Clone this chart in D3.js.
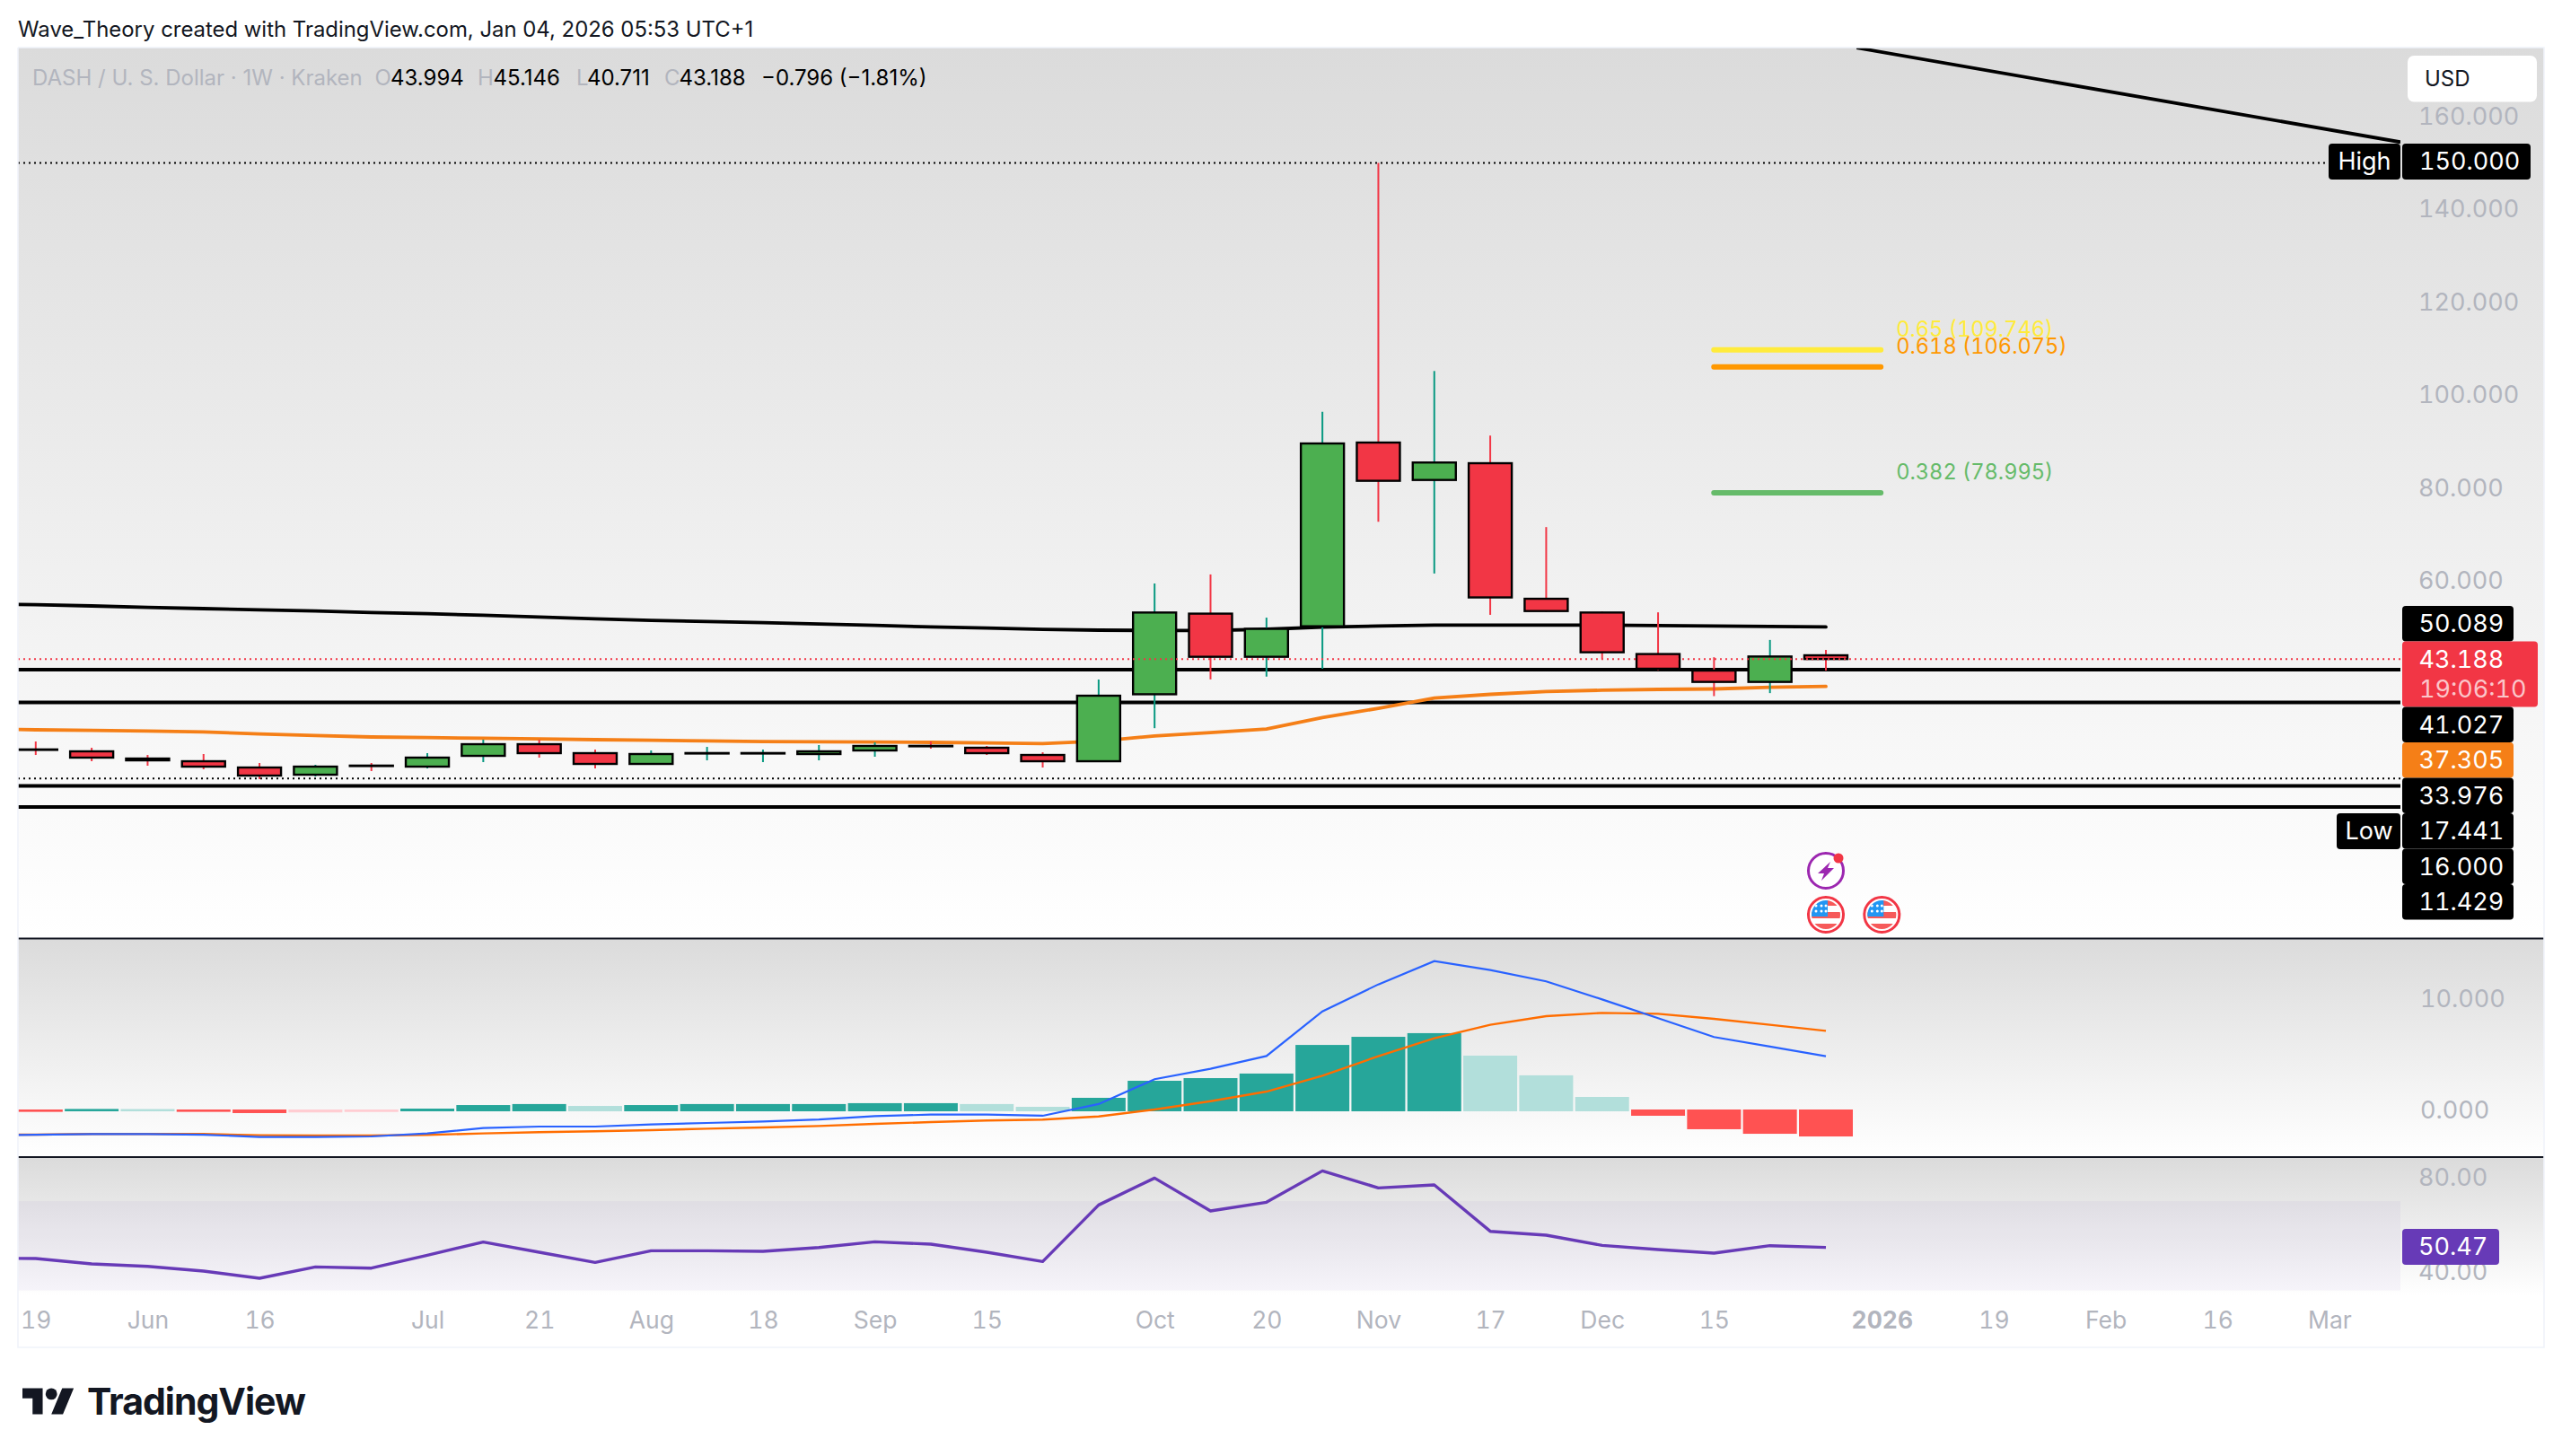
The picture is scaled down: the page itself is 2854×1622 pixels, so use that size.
<!DOCTYPE html>
<html>
<head>
<meta charset="utf-8">
<style>
html,body{margin:0;padding:0;background:#fff;}
svg{display:block;font-family:Inter,"Noto Sans",sans-serif;}
</style>
<script src="https://cdnjs.cloudflare.com/ajax/libs/d3/7.8.5/d3.min.js"></script>
</head>
<body>
<svg id="c" width="2854" height="1622" viewBox="0 0 2854 1622"></svg>
<script>
// ---------- data ----------
const opens  = [23.72,23.31,21.76,21.18,19.83,18.28,20.24,20.02,22.34,24.85,22.92,20.60,22.90,22.90,22.73,23.50,24.49,24.08,22.53,21.18,35.60,52.96,43.67,50.24,89.80,81.74,85.35,56.16,53.20,44.26,40.70,38.26,43.994];
const highs  = [25.43,24.08,22.53,22.73,20.80,20.41,20.80,22.92,25.82,25.82,23.69,23.50,24.27,23.69,24.66,25.24,25.43,24.47,23.11,38.77,59.45,61.40,52.10,96.40,150.00,105.20,91.30,71.60,53.40,53.24,43.57,47.30,45.146];
const lows   = [22.53,21.18,20.22,19.44,17.32,17.90,19.06,19.63,20.99,21.96,19.63,20.41,21.37,20.99,21.37,22.15,23.89,22.53,19.83,21.18,28.30,38.80,39.40,41.08,72.76,61.60,52.70,53.33,43.10,40.80,35.20,35.85,40.711];
const closes = [23.66,21.96,21.37,20.02,18.09,20.02,20.20,21.96,24.85,22.92,20.60,22.73,22.94,22.94,23.31,24.47,24.45,22.92,21.18,35.29,53.20,43.67,49.68,89.60,81.56,85.50,56.45,53.52,44.64,41.10,38.26,43.73,43.188];
// line series start one week earlier than the first whole candle (off the left edge)
const emaBlack  = [55.10,54.87,54.62,54.29,54.04,53.78,53.52,53.20,52.94,52.62,52.23,51.85,51.52,51.27,51.01,50.75,50.43,50.11,49.85,49.59,49.40,49.34,49.34,49.60,50.05,50.30,50.49,50.49,50.49,50.49,50.40,50.30,50.20,50.089];
const emaOrange = [28.14,27.95,27.82,27.69,27.50,27.04,26.72,26.40,26.27,26.14,26.01,25.82,25.69,25.56,25.43,25.37,25.30,25.24,25.11,24.98,25.50,26.62,27.33,28.13,30.60,32.56,34.78,35.58,36.20,36.47,36.65,36.74,37.09,37.305];
const macdHist  = [-0.05,0.05,0.04,-0.05,-0.16,-0.10,-0.06,0.08,0.40,0.49,0.32,0.40,0.49,0.49,0.49,0.57,0.57,0.49,0.24,1.05,2.58,2.82,3.23,5.80,6.53,6.86,4.84,3.07,1.13,-0.40,-1.61,-2.02,-2.26];
const macdLine  = [-2.28,-2.18,-2.12,-2.12,-2.18,-2.39,-2.39,-2.34,-2.07,-1.59,-1.45,-1.45,-1.26,-1.13,-0.99,-0.81,-0.51,-0.38,-0.38,-0.48,0.57,2.80,3.74,4.89,8.90,11.32,13.41,12.61,11.59,9.97,8.28,6.59,5.73,4.87];
const macdSignal= [-2.18,-2.18,-2.12,-2.12,-2.12,-2.23,-2.26,-2.26,-2.20,-2.07,-1.96,-1.88,-1.77,-1.64,-1.53,-1.40,-1.21,-1.05,-0.91,-0.83,-0.54,0.08,0.83,1.69,3.12,4.87,6.48,7.69,8.47,8.76,8.68,8.23,7.69,7.15];
const rsiLine   = [45.90,45.79,43.52,42.50,40.50,37.46,42.25,41.75,47.18,52.73,48.44,44.15,49.07,49.07,48.82,50.46,52.86,51.85,48.44,44.53,68.39,79.75,65.86,69.53,82.78,75.59,76.85,57.28,55.64,51.34,49.58,48.06,51.22,50.47];
const levelLines = [41.027,33.976,16.000,11.429];
const fibLevels = [0.65,0.618,0.382];
const fibPrices = [109.746,106.075,78.995];
const fibColors = ["#ffeb3b","#ff9800","#66bb6a"];
const priceTicks = [160,140,120,100,80,60];
const macdTicks = [10,0];
const rsiTicks = [80,40];
const timeIdx = [0,2,4,7,9,11,13,15,17,20,22,24,26,28,30,33,35,37,39,41];
const timeLabels = ["19","Jun","16","Jul","21","Aug","18","Sep","15","Oct","20","Nov","17","Dec","15","2026","19","Feb","16","Mar"];
const trendIdx = [32.55,42.27];
const trendPrice = [174.8,154.5];
const stackLabels = ["50.089","43.188","41.027","37.305","33.976","17.441","16.000","11.429"];
const stackColors = ["#000","#f23645","#000","#f57f17","#000","#000","#000","#000"];
const ohlcLabels = ["O","H","L","C"];
const ohlcValues = ["43.994","45.146","40.711","43.188"];

// ---------- layout ----------
const L=20, PR=2674, R=2834, T=53, B1=1045.5, B2=1289, B3=1444, B4=1501;
const FONT_AXIS=27, GREY="#b2b5be", INK="#131722", NUMS="'tnum' 1";
const svg=d3.select("#c");
const x=d3.scaleLinear().domain([0,32]).range([39.8,2034]);
const yP=d3.scaleLinear().domain([0,160]).range([957.6,129.8]);
const yM=d3.scaleLinear().domain([0,10]).range([1237,1113]);
const yR=d3.scaleLinear().domain([40,80]).range([1417.3,1311.7]);

const defs=svg.append("defs");
function grad(id,y1,y2){
  const g=defs.append("linearGradient").attr("id",id).attr("gradientUnits","userSpaceOnUse")
    .attr("x1",0).attr("x2",0).attr("y1",y1).attr("y2",y2);
  g.append("stop").attr("offset",0).attr("stop-color","#dbdbdb");
  g.append("stop").attr("offset",1).attr("stop-color","#ffffff");
}
grad("g1",T,B1); grad("g2",B1,B2); grad("g3",B2,B3);
defs.append("clipPath").attr("id","plot").append("rect").attr("x",L).attr("y",T).attr("width",PR-L).attr("height",B3-T);

svg.append("rect").attr("width",2854).attr("height",1622).attr("fill","#fff");
[["g1",T,B1],["g2",B1,B2],["g3",B2,B3]].forEach(([id,a,b])=>{
  svg.append("rect").attr("x",L).attr("y",a).attr("width",R-L).attr("height",b-a).attr("fill",`url(#${id})`);
});

// ---------- header ----------
svg.append("text").attr("x",20).attr("y",33).attr("dy","0.35em").attr("font-size",23.9).attr("fill",INK)
  .text("Wave_Theory created with TradingView.com, Jan 04, 2026 05:53 UTC+1");

const plot=svg.append("g").attr("clip-path","url(#plot)");
const lineFrom=(sx,sy,off)=>d3.line().x((d,i)=>sx(i+off)).y(d=>sy(d));

// RSI band
plot.append("rect").attr("x",L).attr("width",PR-L).attr("y",yR(70)).attr("height",yR(32.3)-yR(70)).attr("fill","#7e57c2").attr("opacity",0.06);

// horizontal levels
plot.selectAll("line.level").data(levelLines).join("line").attr("class","level")
  .attr("x1",L).attr("x2",PR).attr("y1",d=>yP(d)+0.6).attr("y2",d=>yP(d)+0.6)
  .attr("stroke","#000").attr("stroke-width",4);
// dotted High / Low / last price
const dotted=(v,col,x2)=>plot.append("line").attr("x1",L).attr("x2",x2).attr("y1",yP(v)).attr("y2",yP(v))
  .attr("stroke",col).attr("stroke-width",2).attr("stroke-dasharray","2 4");
dotted(150,"#000",2594); dotted(17.441,"#000",PR);

// trend line
plot.append("path").datum(trendIdx.map((t,i)=>[t,trendPrice[i]]))
  .attr("d",d3.line().x(d=>x(d[0])).y(d=>yP(d[1]))).attr("stroke","#000").attr("stroke-width",3.8).attr("fill","none");

// EMA lines
plot.append("path").datum(emaBlack).attr("d",lineFrom(x,yP,-1)).attr("fill","none").attr("stroke","#000").attr("stroke-width",3.8).attr("stroke-linecap","round");
plot.append("path").datum(emaOrange).attr("d",lineFrom(x,yP,-1)).attr("fill","none").attr("stroke","#f57f17").attr("stroke-width",3.8).attr("stroke-linecap","round");

// fib lines + labels
const fibX1=x(29.95)+3, fibX2=x(33.03)-3;
fibPrices.forEach((p,i)=>{
  plot.append("line").attr("x1",fibX1).attr("x2",fibX2).attr("y1",yP(p)).attr("y2",yP(p))
    .attr("stroke",fibColors[i]).attr("stroke-width",6).attr("stroke-linecap","round");
  svg.append("text").attr("x",fibX2+17).attr("y",yP(p)-23.5).attr("dy","0.35em").attr("font-size",23.6)
    .attr("fill",fibColors[i]).style("font-feature-settings",NUMS).text(`${fibLevels[i]} (${p.toFixed(3)})`);
});

// candles
const candles=opens.map((o,i)=>({i,o,h:highs[i],l:lows[i],c:closes[i],up:closes[i]>=o}));
const cg=plot.append("g");
cg.selectAll("line").data(candles).join("line")
  .attr("x1",d=>x(d.i)).attr("x2",d=>x(d.i)).attr("y1",d=>yP(d.h)).attr("y2",d=>yP(d.l))
  .attr("stroke",d=>d.up?"#089981":"#f23645").attr("stroke-width",2);
cg.selectAll("rect").data(candles).join("rect")
  .attr("x",d=>x(d.i)-24).attr("width",48)
  .attr("y",d=>yP(Math.max(d.o,d.c))).attr("height",d=>Math.max(0.5,Math.abs(yP(d.o)-yP(d.c))))
  .attr("fill",d=>d.up?"#4caf50":"#f23645").attr("stroke","#000").attr("stroke-width",2.4);
// last price dotted passes over the candles
dotted(43.188,"#f23645",PR);

// MACD histogram
plot.selectAll("rect.h").data(macdHist).join("rect").attr("class","h")
  .attr("x",(d,i)=>x(i)-30).attr("width",60)
  .attr("y",d=>Math.min(yM(d),yM(0))-1).attr("height",d=>Math.abs(yM(d)-yM(0))+2)
  .attr("fill",(d,i)=>{
    const p=i?macdHist[i-1]:d;
    if(d>=0) return d>=p?"#26a69a":"#b2dfdb";
    return d<=p?"#ff5252":"#ffcdd2";
  });
plot.append("path").datum(macdSignal).attr("d",lineFrom(x,yM,-1)).attr("fill","none").attr("stroke","#ff6d00").attr("stroke-width",2.4);
plot.append("path").datum(macdLine).attr("d",lineFrom(x,yM,-1)).attr("fill","none").attr("stroke","#2962ff").attr("stroke-width",2.2);

// RSI
plot.append("path").datum(rsiLine).attr("d",lineFrom(x,yR,-1)).attr("fill","none").attr("stroke","#673ab7").attr("stroke-width",3.4).attr("stroke-linejoin","round");

// separators and borders
[B1,B2].forEach(y=>svg.append("line").attr("x1",L).attr("x2",R).attr("y1",y).attr("y2",y).attr("stroke","#131722").attr("stroke-width",2));
svg.append("path").attr("d",`M${L} ${T}V${B4}H${R}V${T}H${L}`).attr("fill","none").attr("stroke","#f0f3fa").attr("stroke-width",1.6);

// axes
function style(g,size,col){
  g.select(".domain").remove();
  g.selectAll("text").attr("font-size",size).attr("fill",col).attr("font-family","Inter").style("font-feature-settings",NUMS);
}
const axP=svg.append("g").attr("transform",`translate(${PR},0)`)
  .call(d3.axisRight(yP).tickValues(priceTicks).tickSize(0).tickPadding(20).tickFormat(d3.format(".3f")));
style(axP,FONT_AXIS,GREY);
const axM=svg.append("g").attr("transform",`translate(${PR},0)`)
  .call(d3.axisRight(yM).tickValues(macdTicks).tickSize(0).tickPadding(22).tickFormat(d3.format(".3f")));
style(axM,FONT_AXIS,GREY);
const axR=svg.append("g").attr("transform",`translate(${PR},0)`)
  .call(d3.axisRight(yR).tickValues(rsiTicks).tickSize(0).tickPadding(20).tickFormat(d3.format(".2f")));
style(axR,FONT_AXIS,GREY);
const axT=svg.append("g").attr("transform",`translate(0,1455)`)
  .call(d3.axisBottom(x).tickValues(timeIdx).tickSize(0).tickPadding(0).tickFormat((d,i)=>timeLabels[i]));
style(axT,26.5,GREY);
axT.selectAll("text").attr("dy","0.95em").attr("font-weight",(d,i)=>timeLabels[i]==="2026"?700:400);

// legend row
const legendSize=24;
svg.append("text").attr("x",36).attr("y",87).attr("dy","0.35em").attr("font-size",legendSize).attr("fill",GREY).text("DASH / U. S. Dollar · 1W · Kraken");
[417.5,532,642,740].forEach((px,i)=>{
  svg.append("text").attr("x",px).attr("y",87).attr("dy","0.35em").attr("font-size",legendSize).attr("fill",GREY).text(ohlcLabels[i]);
});
[435,549.5,654,756.5].forEach((px,i)=>{
  svg.append("text").attr("x",px).attr("y",87).attr("dy","0.35em").attr("font-size",legendSize).attr("fill","#000").text(ohlcValues[i]);
});
svg.append("text").attr("x",848).attr("y",87).attr("dy","0.35em").attr("font-size",legendSize).attr("fill","#000").text("−0.796 (−1.81%)");

// USD button
svg.append("rect").attr("x",2682).attr("y",62).attr("width",144).attr("height",51.5).attr("rx",7).attr("fill","#fff");
svg.append("text").attr("x",2701).attr("y",88).attr("dy","0.35em").attr("font-size",24).attr("fill",INK).text("USD");

// price tags
function tag(x0,x1,y0,y1,fill){svg.append("rect").attr("x",x0).attr("y",y0).attr("width",x1-x0).attr("height",y1-y0).attr("rx",4).attr("fill",fill);}
function tagText(px,y,t,col,anchor){svg.append("text").attr("x",px).attr("y",y).attr("dy","0.35em").attr("font-size",FONT_AXIS).attr("fill",col||"#fff").attr("text-anchor",anchor||"start").style("font-feature-settings",NUMS).text(t);}
tag(2594,2674,160,200,"#000"); tagText(2634,180,"High","#fff","middle");
tag(2676,2819,160,200,"#000"); tagText(2695,180,"150.000");
tag(2603,2674,906,946,"#000"); tagText(2639,926,"Low","#fff","middle");
let yy=675;
stackLabels.forEach((t,i)=>{
  const h=t==="43.188"?73:39.5, x1=t==="43.188"?2827:2800;
  tag(2676,x1,yy,yy+h,stackColors[i]);
  if(t==="43.188"){ tagText(2694.5,yy+20,t); tagText(2695,yy+53,"19:06:10","rgba(255,255,255,0.72)"); }
  else tagText(2694.5,yy+h/2,t);
  yy+=h;
});
// RSI tag
tag(2676,2784,1369,1409,"#673ab7"); tagText(2694,1389,"50.47");

// event icons
const ic=svg.append("g");
const cx0=x(32), cx1=x(33);
ic.append("circle").attr("cx",cx0).attr("cy",970).attr("r",19.5).attr("fill","#fff").attr("stroke","#9c27b0").attr("stroke-width",3);
ic.append("path").attr("d",`M${cx0+5} ${960}L${cx0-9} ${973}H${cx0-2}L${cx0-5} ${981}L${cx0+9} ${967}H${cx0+2}Z`).attr("fill","#9c27b0");
ic.append("circle").attr("cx",cx0+14).attr("cy",956).attr("r",5.5).attr("fill","#f23645");
[cx0,cx1].forEach((cx,k)=>{
  const cid="fl"+k;
  defs.append("clipPath").attr("id",cid).append("circle").attr("cx",cx).attr("cy",1019).attr("r",16);
  ic.append("circle").attr("cx",cx).attr("cy",1019).attr("r",19.5).attr("fill","#fff").attr("stroke","#f23645").attr("stroke-width",3);
  const f=ic.append("g").attr("clip-path",`url(#${cid})`);
  f.append("rect").attr("x",cx-17).attr("y",1016).attr("width",34).attr("height",7).attr("fill","#f65a5a");
  f.append("rect").attr("x",cx-17).attr("y",1029).attr("width",34).attr("height",7).attr("fill","#f65a5a");
  f.append("rect").attr("x",cx).attr("y",1003).attr("width",17).attr("height",6).attr("fill","#f65a5a");
  f.append("rect").attr("x",cx-17).attr("y",1003).attr("width",19).attr("height",18).attr("fill","#2196f3");
  [[-11,1009],[-5,1009],[0,1009],[-11,1015],[-5,1015],[0,1015]].forEach(s=>f.append("circle").attr("cx",cx+s[0]).attr("cy",s[1]).attr("r",1.5).attr("fill","#fff"));
});

// TradingView logo
const logo=svg.append("g").attr("transform","translate(25,1540) scale(1.61)").attr("fill","#131722");
logo.append("path").attr("d","M14 22H7V11H0V4h14v18zM28 22h-8l7.5-18h8L28 22z");
logo.append("circle").attr("cx",20).attr("cy",8).attr("r",4);
svg.append("text").attr("x",97).attr("y",1576).attr("font-size",41).attr("font-weight",650).attr("letter-spacing",-1).attr("fill","#131722").text("TradingView");
</script>
</body>
</html>
